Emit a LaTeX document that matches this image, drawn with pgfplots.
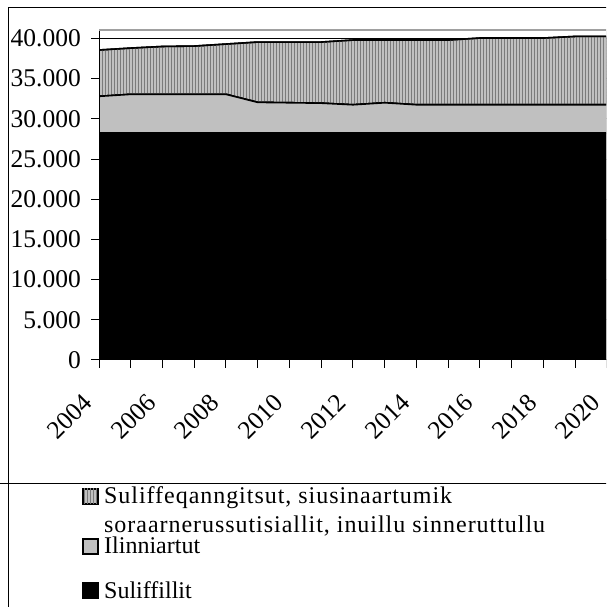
\documentclass[border=0pt]{standalone}
\usepackage{fontspec}
\setmainfont{Liberation Serif}
\usepackage{pgfplots}
\pgfplotsset{compat=1.18}
\usepackage{pgfplotstable}
\usetikzlibrary{patterns.meta}

\definecolor{areagray}{HTML}{C0C0C0}
\definecolor{stripegray}{HTML}{7A7A7A}
\definecolor{framegray}{HTML}{A0A0A0}

% year, Suliffillit, Ilinniartut, Suliffeqanngitsut...
\pgfplotstableread{
year sul ili uts
2004 28200 4600 5760
2005 28200 4850 5750
2006 28200 4850 5950
2007 28200 4850 6000
2008 28200 4850 6250
2009 28200 3850 7500
2010 28200 3800 7550
2011 28200 3750 7600
2012 28200 3550 8050
2013 28200 3800 7800
2014 28200 3550 8050
2015 28200 3550 8050
2016 28200 3550 8300
2017 28200 3550 8300
2018 28200 3550 8300
2019 28200 3550 8500
2020 28200 3550 8500
}\datatable

\begin{document}
\fontsize{24}{28}\selectfont
\begin{tikzpicture}[x=1pt,y=1pt]
\path[use as bounding box, clip] (0,0) rectangle (606,607);
\fill[white] (0,0) rectangle (606,607);
% chart frame and legend separator
\draw[black, line width=1pt] (8,0) -- (8,599) -- (620,599);
\draw[black, line width=1pt] (0,123) -- (620,123);

\begin{axis}[
  at={(99pt,247pt)}, anchor=south west,
  scale only axis, width=508pt, height=330pt,
  xmin=2004, xmax=2020, ymin=0, ymax=41050,
  stack plots=y,
  axis x line*=bottom, axis y line*=left,
  axis line style={black, line width=1pt},
  tick align=outside, major tick length=8pt,
  tick style={black, line width=1pt},
  ytick={0,5000,...,40000},
  scaled y ticks=false,
  xtick={2004,...,2020},
  xticklabels={2004,,2006,,2008,,2010,,2012,,2014,,2016,,2018,,2020},
  ticklabel style={font=\fontsize{25.5}{30}\selectfont},
  xticklabel style={xshift=-17pt, yshift=-24pt, rotate=45, anchor=north east, inner sep=0pt},
  yticklabel style={inner sep=0pt, xshift=-10pt},
  /pgf/number format/.cd, 1000 sep={.}, assume math mode=true,
  /pgfplots/.cd,
  ymajorgrids, grid style={black, line width=1pt},
  every axis plot/.append style={draw=black, line width=1.6pt},
]
\draw[framegray, line width=1.5pt] (rel axis cs:0,1) -- (rel axis cs:1,1) -- (rel axis cs:1,0);
\addplot[fill=black] table[x=year, y=sul] {\datatable} \closedcycle;
\addplot[fill=areagray] table[x=year, y=ili] {\datatable} \closedcycle;
\addplot[fill=areagray, postaction={pattern={Lines[angle=90, distance=3pt, line width=1pt]}, pattern color=stripegray}] table[x=year, y=uts] {\datatable} \closedcycle;
\end{axis}

% legend
\draw[line width=1.2pt, fill=areagray, postaction={pattern={Lines[angle=90, distance=3pt, line width=1pt]}, pattern color=stripegray}] (83,103) rectangle (98,118);
\node[anchor=base west, inner sep=0pt] at (104,103) {\addfontfeatures{LetterSpace=4}Suliffeqanngitsut, siusinaartumik};
\node[anchor=base west, inner sep=0pt] at (104,74) {\addfontfeatures{LetterSpace=4}soraarnerussutisiallit, inuillu sinneruttullu};
\draw[line width=1.2pt, fill=areagray] (83,53) rectangle (98,68);
\node[anchor=base west, inner sep=0pt] at (104,53) {Ilinniartut};
\draw[line width=1.2pt, fill=black] (83,9) rectangle (98,24);
\node[anchor=base west, inner sep=0pt] at (104,9) {Suliffillit};
\end{tikzpicture}
\end{document}
